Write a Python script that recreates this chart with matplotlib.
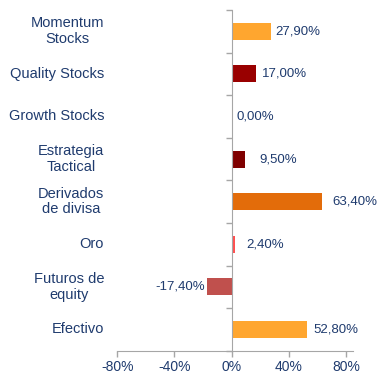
import matplotlib
matplotlib.use("Agg")
from matplotlib import pyplot as plt
import matplotlib.ticker as ticker
import matplotlib.transforms as mtransforms

categories = [
    "Momentum\nStocks",
    "Quality Stocks",
    "Growth Stocks",
    "Estrategia\nTactical",
    "Derivados\nde divisa",
    "Oro",
    "Futuros de\nequity",
    "Efectivo",
]
values = [27.9, 17.0, 0.0, 9.5, 63.4, 2.4, -17.4, 52.8]
bar_colors = ["#FFA62F", "#990000", "#990000", "#7F0000",
              "#E36C0A", "#FF5050", "#C0504D", "#FFA62F"]
x_ticks = [-80, -40, 0, 40, 80]

# gap between bar end and its value label, in points
label_pad = [3, 4.5, 3.5, 10, 7.5, 8, 1.5, 4.5]

text_color = "#1F3B6E"
axis_color = "#A6A6A6"

plt.rcParams["font.family"] = ["Liberation Sans", "DejaVu Sans"]

fig = plt.figure(figsize=(3.78, 3.76), dpi=100)
ax = fig.add_axes([117.3 / 378, 25.3 / 376, (353 - 117.3) / 378, (366 - 25.3) / 376])

ypos = list(range(len(categories)))
ax.barh(ypos, values, height=0.4, color=bar_colors, zorder=2)

ax.set_xlim(-80, 85)
ax.set_ylim(len(categories) - 0.5, -0.5)

# spines: only bottom and a centre line at zero
for side in ("top", "right"):
    ax.spines[side].set_visible(False)
ax.spines["left"].set_position(("data", 0))
ax.spines["left"].set_color(axis_color)
ax.spines["bottom"].set_color(axis_color)
ax.spines["left"].set_zorder(3)

ax.set_xticks(x_ticks)
ax.xaxis.set_major_formatter(ticker.FuncFormatter(lambda v, p: f"{v:.0f}%"))
ax.tick_params(axis="x", colors=axis_color, labelcolor=text_color,
               labelsize=10, length=4, width=1, pad=3)

ax.set_yticks([i - 0.5 for i in range(len(categories) + 1)])
ax.set_yticklabels([])
ax.tick_params(axis="y", colors=axis_color, length=4, width=1)

# category names sit left of the plot area
trans = mtransforms.blended_transform_factory(ax.transAxes, ax.transData)
for y, name in zip(ypos, categories):
    ax.text(-0.056, y, name, transform=trans, ha="right", va="center",
            multialignment="center", fontsize=10.5, color=text_color,
            linespacing=1.15)

# value labels
for y, v, pad in zip(ypos, values, label_pad):
    label = f"{v:.2f}".replace(".", ",") + "%"
    if v < 0:
        ax.annotate(label, (v, y), xytext=(-pad, 0), textcoords="offset points",
                    ha="right", va="center", fontsize=9.5, color=text_color)
    else:
        ax.annotate(label, (v, y), xytext=(pad, 0), textcoords="offset points",
                    ha="left", va="center", fontsize=9.5, color=text_color)

fig.savefig("out.png", dpi=100)
